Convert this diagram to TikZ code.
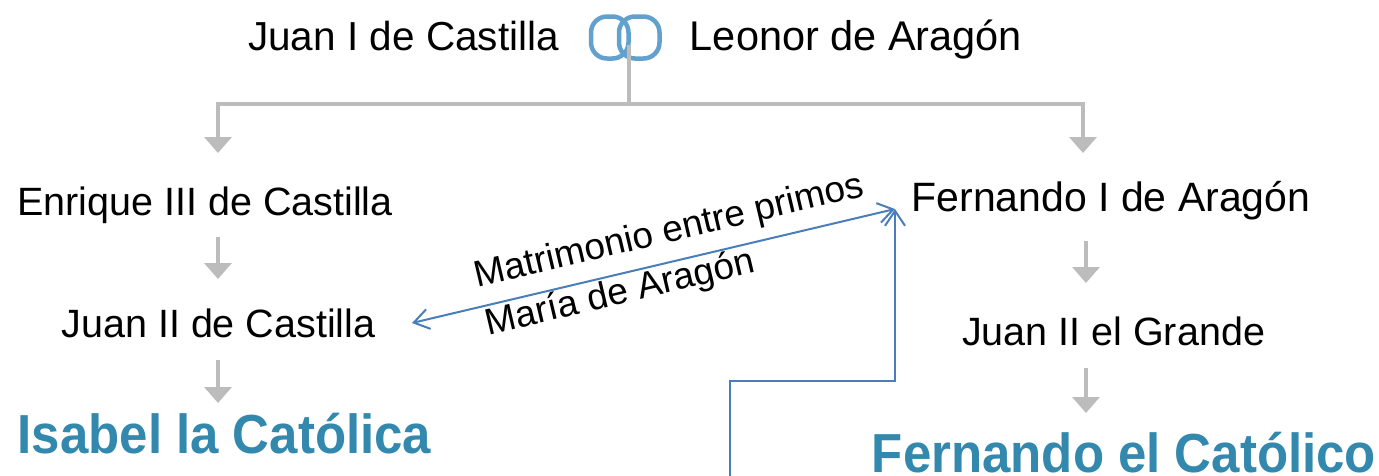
\documentclass[tikz,border=0pt]{standalone}
\usepackage{fontspec}
\setmainfont{Liberation Sans}
\usetikzlibrary{arrows.meta}
\definecolor{treegray}{RGB}{188,188,188}
\definecolor{linkblue}{RGB}{74,126,187}
\definecolor{ringblue}{RGB}{98,160,206}
\definecolor{titleblue}{RGB}{50,136,173}
\tikzset{
  txt/.style={font=\fontsize{39.5}{47}\selectfont, inner sep=0pt, outer sep=0pt, anchor=base, text height=30pt, text depth=8pt},
  bigtxt/.style={font=\fontsize{55}{62}\bfseries\selectfont, text=titleblue, inner sep=0pt, outer sep=0pt, anchor=base, text height=40pt, text depth=0pt, xscale=0.927},
  lbl/.style={font=\fontsize{37}{44}\selectfont, outer sep=0pt, inner xsep=0pt, text height=28pt, text depth=8pt},
  grayline/.style={draw=treegray, line width=3.5pt},
  grayarrow/.style={grayline, -{Triangle[width=27pt,length=16pt]}},
  ring/.style={draw=ringblue, line width=4.5pt, rounded corners=16pt},
  bluelink/.style={draw=linkblue, line width=2pt},
  myBarb/.tip={Straight Barb[length=15pt,width=20pt,line width=2pt]}
}
\begin{document}
\begin{tikzpicture}[x=1pt,y=-1pt]
\useasboundingbox (0,0) rectangle (1379,475);
% top couple
\node[txt, font=\fontsize{40.5}{47}\selectfont] (j1) at (403.5,50) {Juan I de Castilla};
\node[txt, font=\fontsize{41.5}{47}\selectfont] (leo) at (856,50) {Leonor de Aragón};
\node[inner sep=0pt, minimum width=73pt, minimum height=47pt] (rings) at (625.5,37.5) {};
\draw[ring] (591,16.5) rectangle (628.5,58.5);
\draw[ring] (619,16.5) rectangle (659.5,58.5);
\coordinate (knot) at (629,45);
\coordinate (bar) at (629,104);
\coordinate (colL) at (218,0);
\coordinate (colRt) at (1083,0);
\coordinate (colR) at (1086,0);
% left line
\node[txt] (enr) at (205,215) {Enrique III de Castilla};
\node[txt] (j2c) at (218.5,337) {Juan II de Castilla};
\node[bigtxt] (isa) at (224.5,453) {Isabel la Católica};
% right line
\node[txt, font=\fontsize{41}{47}\selectfont] (fer1) at (1111,211) {Fernando I de Aragón};
\node[txt] (j2g) at (1113.5,345) {Juan II el Grande};
\node[bigtxt] (ferc) at (1124,472) {Fernando el Católico};
% tree connectors
\draw[grayline] (knot) -- (bar);
\draw[grayarrow, shorten >=32pt] (bar) -| (enr.north -| colL);
\draw[grayarrow, shorten >=28pt] (bar) -| (fer1.north -| colRt);
\draw[grayarrow, shorten <=14pt, shorten >=28pt] (enr.south -| colL) -- (j2c.north -| colL);
\draw[grayarrow, shorten <=15pt, shorten >=10pt] (j2c.south -| colL) -- (isa.north -| colL);
\draw[grayarrow, shorten <=22pt, shorten >=32pt] (fer1.south -| colR) -- (j2g.north -| colR);
\draw[grayarrow, shorten <=15pt, shorten >=19pt] (j2g.south -| colR) -- (ferc.north -| colR);
% marriage link
\coordinate (tipL) at ([xshift=193.5pt,yshift=14pt]j2c.base);
\coordinate (tipR) at ([xshift=-216pt,yshift=2pt]fer1.base);
\draw[bluelink, myBarb-myBarb] (tipL) -- (tipR)
  node[lbl, pos=0.547, sloped, anchor=south, inner ysep=11.5pt] (lab1) {Matrimonio entre primos}
  node[lbl, pos=0.422, sloped, anchor=north, inner ysep=1.5pt] (lab2) {María de Aragón};
\coordinate (bot) at (730,477);
\draw[bluelink, -myBarb] (bot) |- ([yshift=-172pt]tipR) -- (tipR);
\end{tikzpicture}
\end{document}
